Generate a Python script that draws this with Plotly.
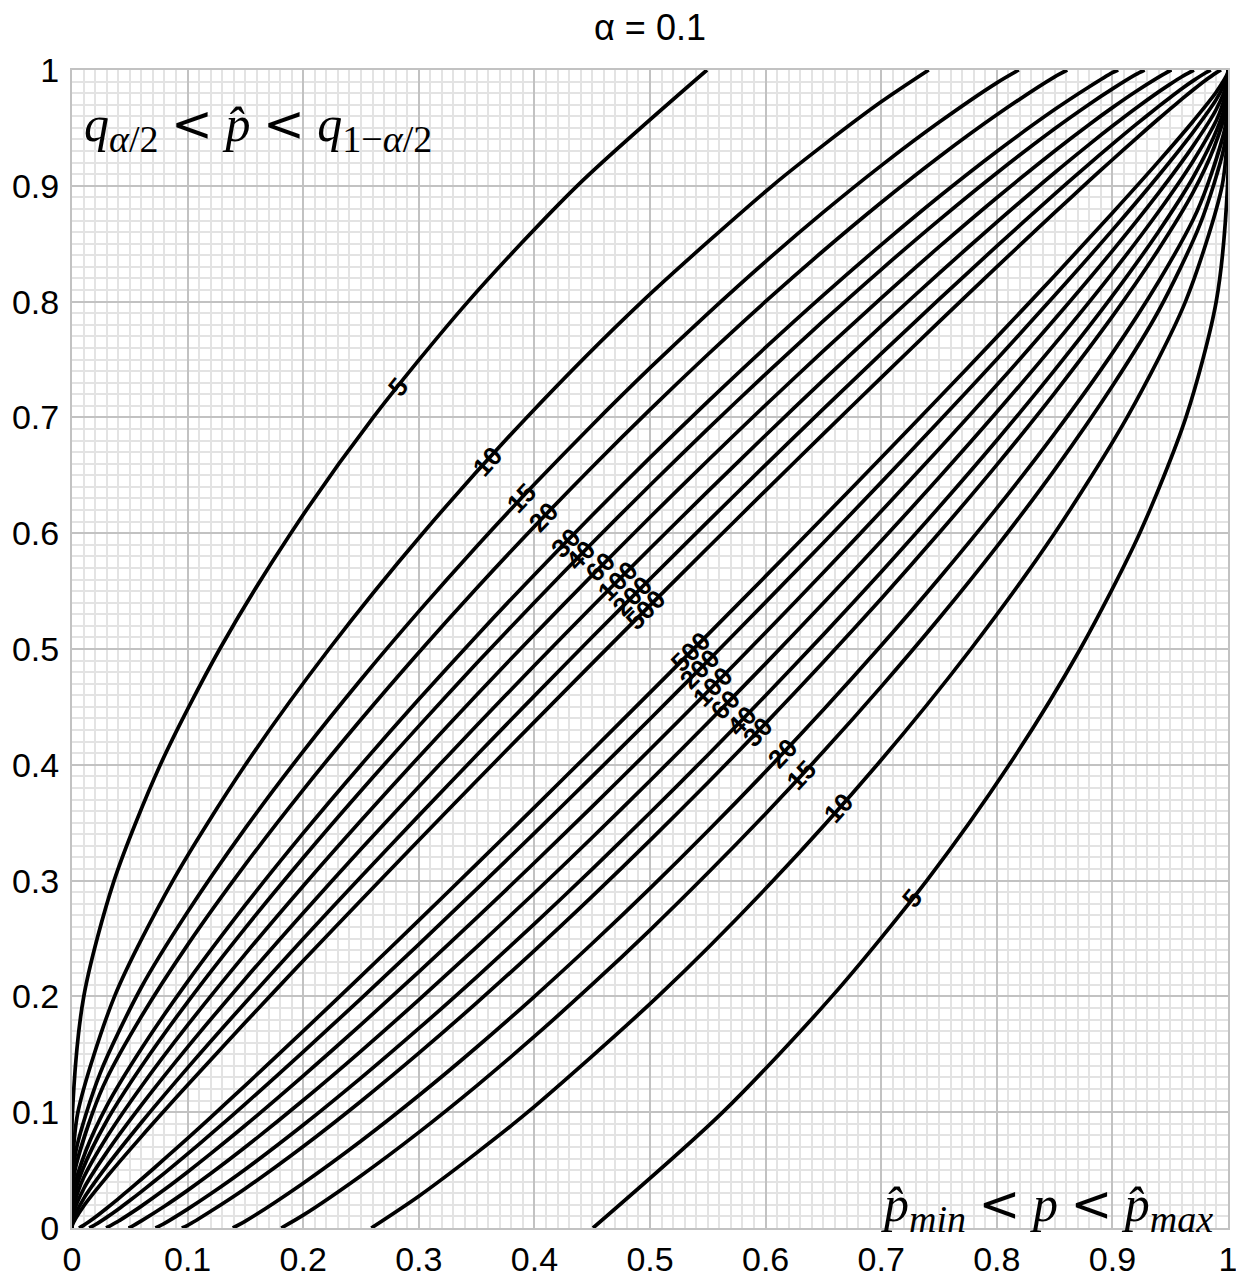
import numpy as np
import plotly.graph_objects as go

# ---------------- data ----------------
N_LABELS = ["5", "10", "15", "20", "30", "40", "60", "100", "200", "500"]

# lower curves (p, p_hat) and upper curves (p, p_hat) for each n
LX5 = [0.4507, 0.563, 0.6574, 0.7394, 0.8107, 0.8722, 0.9236, 0.9636, 0.9898, 0.9996, 1.0]
LY5 = [0, 0.1, 0.2, 0.3, 0.4, 0.5, 0.6, 0.7, 0.8, 0.9, 1.0]
UX5 = [0, 0.0004, 0.0102, 0.0364, 0.0764, 0.1278, 0.1893, 0.2606, 0.3426, 0.437, 0.5493]
UY5 = [0, 0.1, 0.2, 0.3, 0.4, 0.5, 0.6, 0.7, 0.8, 0.9, 1.0]

LX10 = [0.2589, 0.3, 0.35, 0.3942, 0.5069, 0.6066, 0.6965, 0.7776, 0.85, 0.9127, 0.9632, 0.9949, 0.9998, 1.0]
LY10 = [0, 0.0275, 0.0649, 0.1, 0.2, 0.3, 0.4, 0.5, 0.6, 0.7, 0.8, 0.9, 0.95, 1.0]
UX10 = [0, 0.0002, 0.0051, 0.0368, 0.0873, 0.15, 0.2224, 0.3035, 0.3934, 0.4931, 0.6058, 0.65, 0.7, 0.7411]
UY10 = [0, 0.05, 0.1, 0.2, 0.3, 0.4, 0.5, 0.6, 0.7, 0.8, 0.9, 0.9351, 0.9725, 1.0]

LX15 = [0.181, 0.2, 0.25, 0.3, 0.35, 0.4, 0.45, 0.5, 0.55, 0.6, 0.65, 0.7, 0.75, 0.8, 0.85, 0.9, 0.94, 0.9758, 0.9966, 0.9999, 1.0]
LY15 = [0, 0.0111, 0.0452, 0.0826, 0.1228, 0.1654, 0.2103, 0.2573, 0.3065, 0.3578, 0.4114, 0.4675, 0.5263, 0.5884, 0.6547, 0.7271, 0.7921, 0.8667, 0.9333, 0.9667, 1.0]
UX15 = [0, 0.0001, 0.0034, 0.0242, 0.06, 0.1, 0.15, 0.2, 0.25, 0.3, 0.35, 0.4, 0.45, 0.5, 0.55, 0.6, 0.65, 0.7, 0.75, 0.8, 0.819]
UY15 = [0, 0.0333, 0.0667, 0.1333, 0.2079, 0.2729, 0.3453, 0.4116, 0.4737, 0.5325, 0.5886, 0.6422, 0.6935, 0.7427, 0.7897, 0.8346, 0.8772, 0.9174, 0.9548, 0.9889, 1.0]

LX20 = [0.1391, 0.15, 0.2, 0.25, 0.3, 0.35, 0.4, 0.45, 0.5, 0.55, 0.6, 0.65, 0.7, 0.75, 0.8, 0.85, 0.9, 0.94, 0.97, 0.982, 0.9974, 0.9999, 1.0]
LY20 = [0, 0.0059, 0.0387, 0.0751, 0.1144, 0.1561, 0.1999, 0.2457, 0.2933, 0.3428, 0.3942, 0.4475, 0.503, 0.5609, 0.6216, 0.686, 0.7555, 0.8174, 0.8711, 0.9, 0.95, 0.975, 1.0]
UX20 = [0, 0.0001, 0.0026, 0.018, 0.03, 0.06, 0.1, 0.15, 0.2, 0.25, 0.3, 0.35, 0.4, 0.45, 0.5, 0.55, 0.6, 0.65, 0.7, 0.75, 0.8, 0.85, 0.8609]
UY20 = [0, 0.025, 0.05, 0.1, 0.1289, 0.1826, 0.2445, 0.314, 0.3784, 0.4391, 0.497, 0.5525, 0.6058, 0.6572, 0.7067, 0.7543, 0.8001, 0.8439, 0.8856, 0.9249, 0.9613, 0.9941, 1.0]

LX30 = [0.095, 0.1, 0.12, 0.15, 0.2, 0.25, 0.3, 0.35, 0.4, 0.45, 0.5, 0.55, 0.6, 0.65, 0.7, 0.75, 0.8, 0.85, 0.9, 0.94, 0.97, 0.988, 0.9983, 1.0]
LY30 = [0, 0.0023, 0.0145, 0.0342, 0.0704, 0.1095, 0.151, 0.1944, 0.2396, 0.2864, 0.3347, 0.3845, 0.4358, 0.4887, 0.5434, 0.6001, 0.659, 0.721, 0.7872, 0.8452, 0.8947, 0.9333, 0.9667, 1.0]
UX30 = [0, 0.0017, 0.012, 0.03, 0.06, 0.1, 0.15, 0.2, 0.25, 0.3, 0.35, 0.4, 0.45, 0.5, 0.55, 0.6, 0.65, 0.7, 0.75, 0.8, 0.85, 0.88, 0.9, 0.905]
UY30 = [0, 0.0333, 0.0667, 0.1053, 0.1548, 0.2128, 0.279, 0.341, 0.3999, 0.4566, 0.5113, 0.5642, 0.6155, 0.6653, 0.7136, 0.7604, 0.8056, 0.849, 0.8905, 0.9296, 0.9658, 0.9855, 0.9977, 1.0]

LX40 = [0.0722, 0.08, 0.1, 0.12, 0.15, 0.2, 0.25, 0.3, 0.35, 0.4, 0.45, 0.5, 0.55, 0.6, 0.65, 0.7, 0.75, 0.8, 0.85, 0.9, 0.94, 0.97, 0.991, 0.9987, 1.0]
LY40 = [0, 0.004, 0.0163, 0.0295, 0.0507, 0.0889, 0.1296, 0.1723, 0.2167, 0.2626, 0.3099, 0.3586, 0.4085, 0.4598, 0.5124, 0.5666, 0.6224, 0.6803, 0.7408, 0.8049, 0.8606, 0.9076, 0.95, 0.975, 1.0]
UX40 = [0, 0.0013, 0.009, 0.03, 0.06, 0.1, 0.15, 0.2, 0.25, 0.3, 0.35, 0.4, 0.45, 0.5, 0.55, 0.6, 0.65, 0.7, 0.75, 0.8, 0.85, 0.88, 0.9, 0.92, 0.9278]
UY40 = [0, 0.025, 0.05, 0.0924, 0.1394, 0.1951, 0.2592, 0.3197, 0.3776, 0.4334, 0.4876, 0.5402, 0.5915, 0.6414, 0.6901, 0.7374, 0.7833, 0.8277, 0.8704, 0.9111, 0.9493, 0.9705, 0.9837, 0.996, 1.0]

LX60 = [0.0487, 0.05, 0.06, 0.08, 0.1, 0.12, 0.15, 0.2, 0.25, 0.3, 0.35, 0.4, 0.45, 0.5, 0.55, 0.6, 0.65, 0.7, 0.75, 0.8, 0.85, 0.9, 0.94, 0.97, 0.99, 0.9941, 0.9992, 1.0]
LY60 = [0, 0.0004, 0.0062, 0.0188, 0.0325, 0.047, 0.0699, 0.1103, 0.1528, 0.197, 0.2426, 0.2893, 0.3372, 0.3862, 0.4363, 0.4874, 0.5397, 0.5932, 0.6481, 0.7046, 0.7633, 0.8249, 0.8778, 0.9217, 0.9566, 0.9667, 0.9833, 1.0]
UX60 = [0, 0.0008, 0.0059, 0.01, 0.03, 0.06, 0.1, 0.15, 0.2, 0.25, 0.3, 0.35, 0.4, 0.45, 0.5, 0.55, 0.6, 0.65, 0.7, 0.75, 0.8, 0.85, 0.88, 0.9, 0.92, 0.94, 0.95, 0.9513]
UY60 = [0, 0.0167, 0.0333, 0.0434, 0.0783, 0.1222, 0.1751, 0.2367, 0.2954, 0.3519, 0.4068, 0.4603, 0.5126, 0.5637, 0.6138, 0.6628, 0.7107, 0.7574, 0.803, 0.8472, 0.8897, 0.9301, 0.953, 0.9675, 0.9812, 0.9938, 0.9996, 1.0]

LX100 = [0.0295, 0.04, 0.05, 0.06, 0.08, 0.1, 0.12, 0.15, 0.2, 0.25, 0.3, 0.35, 0.4, 0.45, 0.5, 0.55, 0.6, 0.65, 0.7, 0.75, 0.8, 0.85, 0.9, 0.94, 0.97, 0.99, 0.9995, 1.0]
LY100 = [0, 0.0058, 0.0122, 0.0189, 0.0332, 0.0484, 0.0642, 0.0887, 0.1314, 0.1756, 0.2212, 0.2678, 0.3154, 0.3639, 0.4132, 0.4633, 0.5143, 0.5661, 0.6189, 0.6728, 0.7279, 0.7847, 0.8438, 0.8939, 0.9347, 0.9663, 0.99, 1.0]
UX100 = [0, 0.0005, 0.01, 0.03, 0.06, 0.1, 0.15, 0.2, 0.25, 0.3, 0.35, 0.4, 0.45, 0.5, 0.55, 0.6, 0.65, 0.7, 0.75, 0.8, 0.85, 0.88, 0.9, 0.92, 0.94, 0.95, 0.96, 0.9705]
UY100 = [0, 0.01, 0.0337, 0.0653, 0.1061, 0.1562, 0.2153, 0.2721, 0.3272, 0.3811, 0.4339, 0.4857, 0.5367, 0.5868, 0.6361, 0.6846, 0.7322, 0.7788, 0.8244, 0.8686, 0.9113, 0.9358, 0.9516, 0.9668, 0.9811, 0.9878, 0.9942, 1.0]

LX200 = [0.0149, 0.02, 0.03, 0.04, 0.05, 0.06, 0.08, 0.1, 0.12, 0.15, 0.2, 0.25, 0.3, 0.35, 0.4, 0.45, 0.5, 0.55, 0.6, 0.65, 0.7, 0.75, 0.8, 0.85, 0.9, 0.94, 0.97, 0.99, 0.9997, 1.0]
LY200 = [0, 0.0028, 0.0092, 0.0162, 0.0237, 0.0314, 0.0474, 0.064, 0.081, 0.1072, 0.1521, 0.1981, 0.245, 0.2927, 0.341, 0.39, 0.4396, 0.4897, 0.5405, 0.5918, 0.6439, 0.6966, 0.7503, 0.8052, 0.8617, 0.9089, 0.9466, 0.9748, 0.995, 1.0]
UX200 = [0, 0.0003, 0.01, 0.03, 0.06, 0.1, 0.15, 0.2, 0.25, 0.3, 0.35, 0.4, 0.45, 0.5, 0.55, 0.6, 0.65, 0.7, 0.75, 0.8, 0.85, 0.88, 0.9, 0.92, 0.94, 0.95, 0.96, 0.97, 0.98, 0.9851]
UY200 = [0, 0.005, 0.0252, 0.0534, 0.0911, 0.1383, 0.1948, 0.2497, 0.3034, 0.3561, 0.4082, 0.4595, 0.5103, 0.5604, 0.61, 0.659, 0.7073, 0.755, 0.8019, 0.8479, 0.8928, 0.919, 0.936, 0.9526, 0.9686, 0.9763, 0.9838, 0.9908, 0.9972, 1.0]

LX500 = [0.006, 0.01, 0.02, 0.03, 0.04, 0.05, 0.06, 0.08, 0.1, 0.12, 0.15, 0.2, 0.25, 0.3, 0.35, 0.4, 0.45, 0.5, 0.55, 0.6, 0.65, 0.7, 0.75, 0.8, 0.85, 0.9, 0.94, 0.97, 0.99, 0.9999, 1.0]
LY500 = [0, 0.0023, 0.0093, 0.0171, 0.0252, 0.0336, 0.0421, 0.0596, 0.0775, 0.0956, 0.1232, 0.17, 0.2175, 0.2656, 0.3142, 0.3632, 0.4126, 0.4623, 0.5124, 0.5629, 0.6138, 0.6652, 0.717, 0.7693, 0.8224, 0.8766, 0.9211, 0.956, 0.9812, 0.998, 1.0]
UX500 = [0, 0.0001, 0.01, 0.03, 0.06, 0.1, 0.15, 0.2, 0.25, 0.3, 0.35, 0.4, 0.45, 0.5, 0.55, 0.6, 0.65, 0.7, 0.75, 0.8, 0.85, 0.88, 0.9, 0.92, 0.94, 0.95, 0.96, 0.97, 0.98, 0.99, 0.994]
UY500 = [0, 0.002, 0.0188, 0.044, 0.0789, 0.1234, 0.1776, 0.2307, 0.283, 0.3348, 0.3862, 0.4371, 0.4876, 0.5377, 0.5874, 0.6368, 0.6858, 0.7344, 0.7825, 0.83, 0.8768, 0.9044, 0.9225, 0.9404, 0.9579, 0.9664, 0.9748, 0.9829, 0.9907, 0.9977, 1.0]

LOWER = [(LX5, LY5), (LX10, LY10), (LX15, LY15), (LX20, LY20), (LX30, LY30),
         (LX40, LY40), (LX60, LY60), (LX100, LY100), (LX200, LY200), (LX500, LY500)]
UPPER = [(UX5, UY5), (UX10, UY10), (UX15, UY15), (UX20, UY20), (UX30, UY30),
         (UX40, UY40), (UX60, UY60), (UX100, UY100), (UX200, UY200), (UX500, UY500)]

# label positions along the curves (p coordinate)
UPPER_LABEL_P = [0.282, 0.359, 0.389, 0.408, 0.427, 0.440, 0.457, 0.472, 0.485, 0.496]
LOWER_LABEL_P = [0.727, 0.663, 0.631, 0.615, 0.593, 0.579, 0.565, 0.554, 0.543, 0.535]

# ---------------- figure ----------------
fig = go.Figure()
for (lx, ly), (ux, uy) in zip(LOWER, UPPER):
    for xs, ys in ((lx, ly), (ux, uy)):
        fig.add_trace(go.Scatter(x=xs, y=ys, mode="lines",
                                 line=dict(color="black", width=3.7, shape="spline", smoothing=0.8),
                                 hoverinfo="skip", showlegend=False))

PLOT_W, PLOT_H = 1156, 1158


def label_annotation(text, p, xs, ys):
    xs = np.asarray(xs, float)
    ys = np.asarray(ys, float)
    y = float(np.interp(p, xs, ys))
    d = 0.012
    y1 = float(np.interp(p - d, xs, ys))
    y2 = float(np.interp(p + d, xs, ys))
    slope = ((y2 - y1) * PLOT_H) / (2 * d * PLOT_W)
    ang = -np.degrees(np.arctan(slope))
    return dict(x=p, y=y, xref="x", yref="y", text=text, showarrow=False,
                textangle=float(ang),
                font=dict(family="Liberation Sans, Arial", size=26, color="black", weight="bold"))


annotations = []
for lab, p, (ux, uy) in zip(N_LABELS, UPPER_LABEL_P, UPPER):
    annotations.append(label_annotation(lab, p, ux, uy))
for lab, p, (lx, ly) in zip(N_LABELS, LOWER_LABEL_P, LOWER):
    annotations.append(label_annotation(lab, p, lx, ly))

math_font = dict(family="Liberation Serif, DejaVu Serif, serif", size=50, color="black")
SUB = '<sub><span style="font-size:38px">{}</span></sub>'
LT = ' <span style="font-family:DejaVu Sans">&lt;</span> '
annotations.append(dict(
    xref="paper", yref="paper", x=0.009, y=0.95, xanchor="left", yanchor="middle",
    text=("<i>q</i>" + SUB.format("<i>α</i>/2") + LT + "<i>p̂</i>" + LT + "<i>q</i>"
          + SUB.format("1−<i>α</i>/2")),
    showarrow=False, font=math_font))
annotations.append(dict(
    xref="paper", yref="paper", x=0.9888, y=0.0175, xanchor="right", yanchor="middle",
    text=("<i>p̂</i>" + SUB.format("<i>min</i>") + LT + "<i>p</i>" + LT + "<i>p̂</i>"
          + SUB.format("<i>max</i>")),
    showarrow=False, font=math_font))

axis_common = dict(
    range=[0, 1], tick0=0, dtick=0.1, showgrid=True, gridcolor="#c2c2c2", gridwidth=2,
    minor=dict(dtick=0.01, showgrid=True, gridcolor="#e3e3e3", gridwidth=2),
    zeroline=False, showline=True, linecolor="#c2c2c2", linewidth=2, mirror=True,
    ticks="", automargin=False,
    tickfont=dict(family="Liberation Sans, Arial", size=34, color="black"),
)

# page body has an 8px margin: the figure is sized so the plot area lands on the reference
fig.update_layout(
    width=1236, height=1272,
    margin=dict(l=64, r=16, t=62, b=52, autoexpand=False),
    paper_bgcolor="white", plot_bgcolor="white",
    title=dict(text="α = 0.1", x=0.5, xref="paper", xanchor="center",
               y=1 - 19 / 1272, yref="container", yanchor="middle",
               font=dict(family="Liberation Sans, Arial", size=36, color="black")),
    xaxis=dict(**axis_common, ticklabelstandoff=0),
    yaxis=dict(**axis_common, ticklabelstandoff=4),
    annotations=annotations,
)

fig.write_html("out.html")
